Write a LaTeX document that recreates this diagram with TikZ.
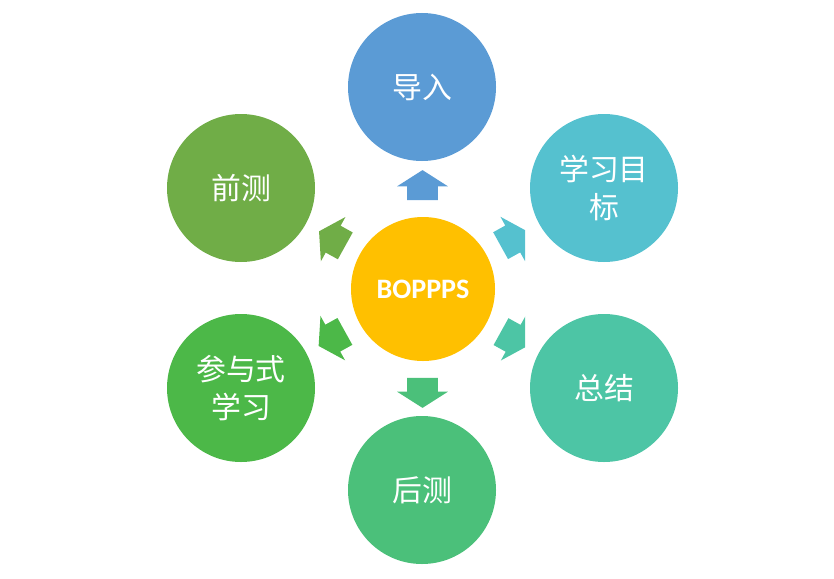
\documentclass[tikz,border=0pt]{standalone}
\usepackage{fontspec}
\setmainfont{Carlito}
\newfontfamily\cjk{Noto Sans CJK SC}
\usepackage{xcolor}
\definecolor{cCore}{HTML}{FFC000}
\definecolor{cIntro}{HTML}{5B9BD5}
\definecolor{cGoal}{HTML}{55C1CF}
\definecolor{cSum}{HTML}{4DC5A5}
\definecolor{cPost}{HTML}{4BC07A}
\definecolor{cPart}{HTML}{4CB848}
\definecolor{cPre}{HTML}{70AD47}
\usepackage{tikz}
\usetikzlibrary{calc,shapes.arrows}
\tikzset{
  node-core/.style={circle,fill=cCore,minimum size=28.8mm,inner sep=0pt,
    text=white,font=\bfseries\fontsize{16}{19}\selectfont},
  node-stage/.style={circle,minimum size=29.6mm,inner sep=0pt,align=center,
    text=white,font=\cjk\fontsize{17}{21.6}\selectfont},
  arrow-block/.style={single arrow,minimum height=6mm,minimum width=10mm,
    single arrow head extend=2mm,single arrow tip angle=115,
    inner xsep=0pt,inner ysep=3mm},
}

\begin{document}
\begin{tikzpicture}[x=0.2mm,y=-0.2mm]
  \useasboundingbox (0,0) rectangle (834,578);
  \node[node-core] (core) at (423,289) {BOPPPS};
  \node[node-stage,fill=cIntro] (intro) at (422,87) {导入};
  \node[node-stage,fill=cGoal] (goal) at (604,188) {学习目\\标};
  \node[node-stage,fill=cSum] (sum) at (604,388) {总结};
  \node[node-stage,fill=cPost] (post) at (422,490) {后测};
  \node[node-stage,fill=cPart] (part) at (241,388) {参与式\\学习};
  \node[node-stage,fill=cPre] (pre) at (241,188) {前测};
  % 六个方向的块状箭头，左右两侧被裁掉一点
  \begin{scope}
    \clip (318,0) rectangle (525,578);
    \node[arrow-block,fill=cIntro,rotate=90] (a-intro) at ($(core)!19.8mm!(intro)$) {};
    \node[arrow-block,fill=cGoal,rotate=29] (a-goal) at ($(core)!19.8mm!(goal)$) {};
    \node[arrow-block,fill=cSum,rotate=-29] (a-sum) at ($(core)!19.8mm!(sum)$) {};
    \node[arrow-block,fill=cPost,rotate=-90] (a-post) at ($(core)!19.8mm!(post)$) {};
    \node[arrow-block,fill=cPart,rotate=-151] (a-part) at ($(core)!19.8mm!(part)$) {};
    \node[arrow-block,fill=cPre,rotate=151] (a-pre) at ($(core)!19.8mm!(pre)$) {};
  \end{scope}
\end{tikzpicture}
\end{document}
